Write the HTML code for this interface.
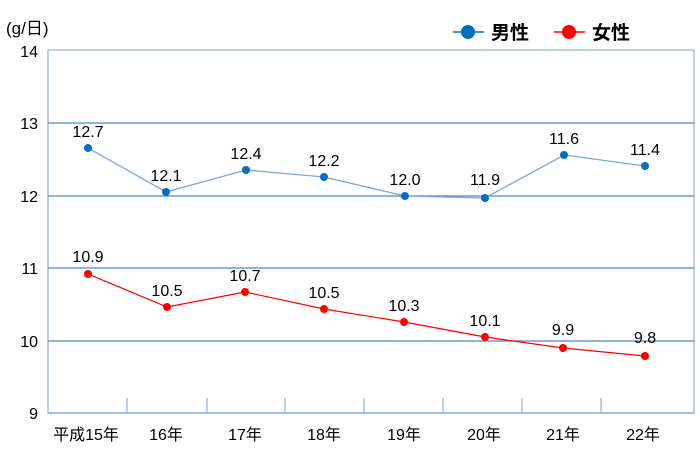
<!DOCTYPE html>
<html><head><meta charset="utf-8"><style>
html,body{margin:0;padding:0;background:#fff;}
svg text{font-family:"Liberation Sans","Noto Sans CJK JP",sans-serif;fill:#000;}
</style></head><body>
<svg width="700" height="451" viewBox="0 0 700 451" xmlns="http://www.w3.org/2000/svg">
<rect x="48" y="50" width="646" height="363" fill="none" stroke="#8fb0dc" stroke-width="1.2"/>
<g stroke="#4f86c6" stroke-width="1.2">
<line x1="48" y1="123" x2="694" y2="123"/>
<line x1="48" y1="196" x2="694" y2="196"/>
<line x1="48" y1="268" x2="694" y2="268"/>
<line x1="48" y1="341" x2="694" y2="341"/>
</g>
<line x1="48" y1="413" x2="694" y2="413" stroke="#8fb0dc" stroke-width="1.5"/>
<g stroke="#8fb0dc" stroke-width="1.2">
<line x1="127" y1="398" x2="127" y2="413"/><line x1="207" y1="398" x2="207" y2="413"/>
<line x1="285" y1="398" x2="285" y2="413"/><line x1="364" y1="398" x2="364" y2="413"/>
<line x1="443" y1="398" x2="443" y2="413"/><line x1="522" y1="398" x2="522" y2="413"/>
<line x1="601" y1="398" x2="601" y2="413"/>
</g>
<g font-size="16" text-anchor="end">
<text x="38" y="57">14</text><text x="38" y="129">13</text><text x="38" y="202">12</text>
<text x="38" y="274">11</text><text x="38" y="347">10</text><text x="38" y="419">9</text>
</g>
<text x="6" y="34" font-size="17">(g/日)</text>
<g font-size="16" text-anchor="middle">
<text x="86" y="440">平成15年</text><text x="166" y="440">16年</text><text x="245" y="440">17年</text>
<text x="324" y="440">18年</text><text x="404" y="440">19年</text><text x="484" y="440">20年</text>
<text x="563" y="440">21年</text><text x="643" y="440">22年</text>
</g>
<polyline fill="none" stroke="#7ba7d8" stroke-width="1.3" points="88,148 166,192 246,170 324,177 405,196 485,198 564,155 645,166"/>
<g fill="#0070c0">
<circle cx="88" cy="148" r="4"/><circle cx="166" cy="192" r="4"/><circle cx="246" cy="170" r="4"/>
<circle cx="324" cy="177" r="4"/><circle cx="405" cy="196" r="4"/><circle cx="485" cy="198" r="4"/>
<circle cx="564" cy="155" r="4"/><circle cx="645" cy="166" r="4"/>
</g>
<polyline fill="none" stroke="#ff0000" stroke-width="1.2" points="88,274 167,307 245,292 324,309 404,322 485,337 563,348 645,356"/>
<g fill="#ff0000">
<circle cx="88" cy="274" r="4"/><circle cx="167" cy="307" r="4"/><circle cx="245" cy="292" r="4"/>
<circle cx="324" cy="309" r="4"/><circle cx="404" cy="322" r="4"/><circle cx="485" cy="337" r="4"/>
<circle cx="563" cy="348" r="4"/><circle cx="645" cy="356" r="4"/>
</g>
<g font-size="16" text-anchor="middle">
<text x="88" y="137">12.7</text><text x="166" y="181">12.1</text><text x="246" y="159">12.4</text>
<text x="324" y="166">12.2</text><text x="405" y="185">12.0</text><text x="485" y="185">11.9</text>
<text x="564" y="144">11.6</text><text x="645" y="155">11.4</text>
<text x="88" y="262">10.9</text><text x="167" y="296">10.5</text><text x="245" y="281">10.7</text>
<text x="324" y="298">10.5</text><text x="404" y="311">10.3</text><text x="485" y="326">10.1</text>
<text x="563" y="335">9.9</text><text x="645" y="343">9.8</text>
</g>
<line x1="453" y1="32" x2="484" y2="32" stroke="#0070c0" stroke-width="1.5"/>
<circle cx="468" cy="32" r="7" fill="#0070c0"/>
<text x="491" y="39" font-size="19" font-weight="bold">男性</text>
<line x1="554" y1="32" x2="585" y2="32" stroke="#ff0000" stroke-width="1.5"/>
<circle cx="569" cy="32" r="7" fill="#ff0000"/>
<text x="592" y="39" font-size="19" font-weight="bold">女性</text>
</svg>
</body></html>
